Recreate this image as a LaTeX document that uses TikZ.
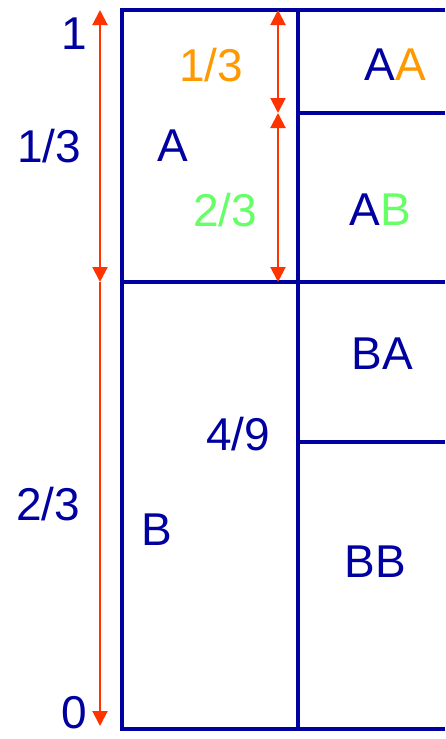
\documentclass[tikz,border=0pt]{standalone}
\usepackage{fontspec}
\setmainfont{Liberation Sans}
\usetikzlibrary{arrows.meta}

\definecolor{gridblue}{RGB}{0,0,160}
\definecolor{arrred}{RGB}{255,51,0}
\definecolor{oneorange}{RGB}{255,153,0}
\definecolor{twogreen}{RGB}{102,255,102}

\begin{document}
\begin{tikzpicture}[
        x=1pt, y=-1pt, font=\fontsize{46}{50}\selectfont,
        grid/.style={draw=gridblue, line width=4.5pt},
        span/.style={draw=arrred, line width=2pt, arrows={-Triangle[length=15pt,width=15pt]}},
        twospan/.style={span, arrows={Triangle[length=15pt,width=15pt]-Triangle[length=15pt,width=15pt]}},
        lbl/.style={text=gridblue, inner sep=0pt}
    ]
    \useasboundingbox (0,0) rectangle (445,739);

    % square of probability mass
    \draw[grid] (445,10) -- (122,10) -- (122,729) -- (445,729);
    \draw[grid] (298,10) -- (298,729);
    \draw[grid] (122,282) -- (445,282);
    \draw[grid] (298,113) -- (445,113);
    \draw[grid] (298,442) -- (445,442);

    % scale marks
    \coordinate (top) at (100,10);
    \coordinate (cut) at (100,282);
    \coordinate (bot) at (100,726);
    \coordinate (rtop) at (278,10);
    \coordinate (rmid) at (278,113);
    \coordinate (rbot) at (278,282);

    \draw[twospan] (top) -- (cut);
    \draw[span] (cut) -- (bot);
    \draw[twospan] (rtop) -- (rmid);
    \draw[twospan] (rmid) -- (rbot);

    % labels
    \node[lbl] (one) at (74,34) {1};
    \node[lbl] (zero) at (74,713) {0};
    \node[lbl] (pa) at (49,146) {1/3};
    \node[lbl] (pb) at (48,504) {2/3};
    \node[lbl] (a) at (173,146) {A};
    \node[lbl] (b) at (157,530) {B};
    \node[lbl, text=oneorange] (paa) at (211,65) {1/3};
    \node[lbl, text=twogreen] (pab) at (225,210) {2/3};
    \node[lbl] (pbb) at (238,434) {4/9};
    \node[lbl] (aa) at (395,65) {A\textcolor{oneorange}{A}};
    \node[lbl] (ab) at (380,210) {A\textcolor{twogreen}{B}};
    \node[lbl] (ba) at (382,354) {BA};
    \node[lbl] (bb) at (375,562) {BB};
\end{tikzpicture}
\end{document}
